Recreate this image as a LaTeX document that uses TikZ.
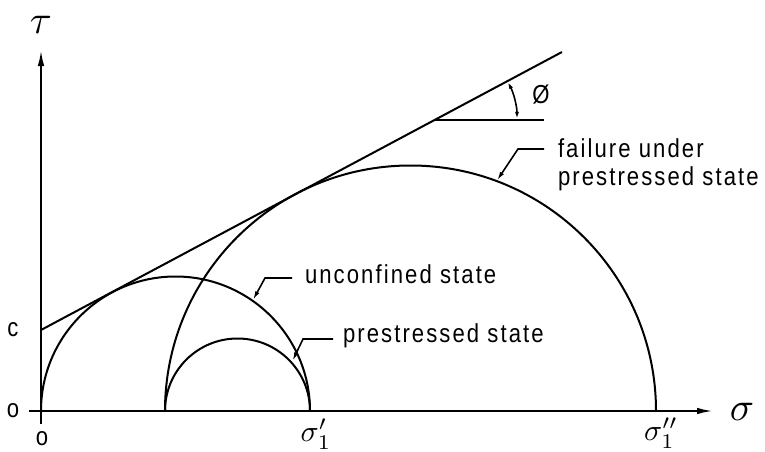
\documentclass[tikz,border=0pt]{standalone}
\usepackage{fontspec}
\usepackage{graphicx}
\setmainfont{Liberation Sans}[FakeStretch=0.85, LetterSpace=8]
\usetikzlibrary{arrows.meta}
\begin{document}
\begin{tikzpicture}[x=1pt,y=-1pt, line width=2pt,
  lbl/.style={font=\fontsize{26}{28}\selectfont, inner sep=0pt},
  greek/.style={inner sep=0pt},
  axisarrow/.style={-{Latex[length=16pt,width=6.5pt]}},
  leader/.style={line width=1.6pt, -{Latex[length=9pt,width=4.5pt]}},
  anglearrow/.style={line width=1.6pt, {Latex[length=8pt,width=4pt]}-{Latex[length=8pt,width=4pt]}}]
\useasboundingbox (0,0) rectangle (765,452);
% axes
\coordinate (ybot) at (41,424);
\coordinate (ytop) at (41,50);
\coordinate (xleft) at (29,411);
\coordinate (xright) at (713,411);
\draw[axisarrow] (ybot) -- (ytop);
\draw[axisarrow] (xleft) -- (xright);
% Mohr circles
\coordinate (A) at (41,411);
\coordinate (B) at (165,411);
\draw (A) arc[start angle=180, end angle=360, radius=134.5];
\draw (B) arc[start angle=180, end angle=360, radius=245.5];
\draw (B) arc[start angle=180, end angle=360, radius=72.5];
% failure envelope
\coordinate (C) at (41,330);
\coordinate (E) at (562,52);
\draw (C) -- (E);
% friction angle
\coordinate (P) at (435,119.8);
\coordinate (H) at (544,119.8);
\draw (P) -- (H);
\draw[anglearrow] ([shift={(0:82)}]P) arc[start angle=0, end angle=-28.08, radius=82];
\node[lbl] (phi) at (541,95) {Ø};
% labels
\node[lbl, anchor=base west] (f1) at (557,157) {failure under};
\node[lbl, anchor=base west] (f2) at (557,185) {prestressed state};
\node[lbl, anchor=base west] (u) at (304,283) {unconfined state};
\node[lbl, anchor=base west] (p) at (342,342) {prestressed state};
\node[lbl] (cl) at (13,330) {c};
\node[lbl] (o1) at (13,411) {o};
\node[lbl] (o2) at (42,439) {o};
\node[greek] (tau) at (41,25) {\scalebox{4}{$\tau$}};
\node[greek] (sig) at (742,412) {\scalebox{4}{$\sigma$}};
\node[greek] (s1) at (316,434) {\scalebox{3}{$\sigma_1'$}};
\node[greek] (s2) at (661,433) {\scalebox{3}{$\sigma_1''$}};
% leaders
\coordinate (fs) at (544,149);
\coordinate (fk) at (518,149);
\coordinate (ft) at (497,180.5);
\draw[leader] (fs) -- (fk) -- (ft);
\coordinate (us) at (292,278);
\coordinate (uk) at (265,278);
\coordinate (ut) at (253,300);
\draw[leader] (us) -- (uk) -- (ut);
\coordinate (ps) at (333,339);
\coordinate (pk) at (303,339);
\coordinate (pt) at (292.5,361);
\draw[leader] (ps) -- (pk) -- (pt);
\end{tikzpicture}
\end{document}
